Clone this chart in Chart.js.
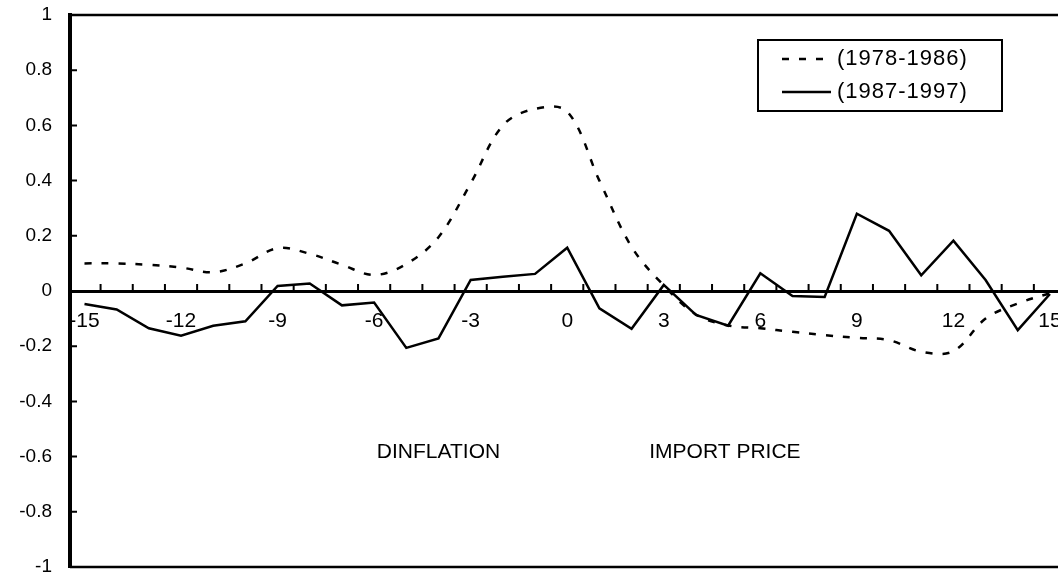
<!DOCTYPE html>
<html>
<head>
<meta charset="utf-8">
<script src="https://cdn.jsdelivr.net/npm/chart.js@4.4.1/dist/chart.umd.min.js"></script>
<style>
  html, body { margin: 0; padding: 0; background: #fff; overflow: hidden; }
  #caja { width: 1058px; height: 580px; position: relative; }
</style>
</head>
<body>
<div id="caja"><canvas id="grafico"></canvas></div>
<script>
//datos
const lags = [-15, -14, -13, -12, -11, -10, -9, -8, -7, -6, -5, -4, -3, -2, -1, 0,
              1, 2, 3, 4, 5, 6, 7, 8, 9, 10, 11, 12, 13, 14, 15];
const serie7886 = [0.10, 0.10, 0.095, 0.085, 0.068, 0.10, 0.155, 0.135, 0.095, 0.058, 0.098,
                   0.195, 0.39, 0.60, 0.66, 0.65, 0.40, 0.16, 0.02, -0.085, -0.125,
                   -0.135, -0.148, -0.16, -0.17, -0.178, -0.22, -0.218, -0.10, -0.045, -0.008];
const serie8797 = [-0.047, -0.067, -0.135, -0.162, -0.126, -0.11, 0.018, 0.027, -0.052, -0.042, -0.206,
                   -0.172, 0.04, 0.052, 0.062, 0.157, -0.063, -0.137, 0.022, -0.087, -0.126,
                   0.064, -0.018, -0.022, 0.28, 0.218, 0.057, 0.182, 0.04, -0.142, -0.011];
const etiquetas = ['(1978-1986)', '(1987-1997)'];
const ticksX = [-15, -12, -9, -6, -3, 0, 3, 6, 9, 12, 15];
const ticksY = [1, 0.8, 0.6, 0.4, 0.2, 0, -0.2, -0.4, -0.6, -0.8, -1];
const etiquetasY = ['1', '0.8', '0.6', '0.4', '0.2', '0', '-0.2', '-0.4', '-0.6', '-0.8', '-1'];
const notas = ['DINFLATION', 'IMPORT PRICE'];
const notasX = [-4, 4.9];
const notasY = [-0.585, -0.585];

const FUENTE = "'Liberation Sans', Arial, sans-serif";

//marco, marcas, leyenda y notas
const marco = {
    id: 'marco',
    afterDraw(chart) {
        const { ctx, chartArea: a } = chart;
        const x = chart.scales.x;
        const y = chart.scales.y;
        const y0 = y.getPixelForValue(0);
        ctx.save();
        ctx.strokeStyle = '#000';
        ctx.lineWidth = 2.5;
        ctx.beginPath();
        ctx.moveTo(a.left, a.top); ctx.lineTo(a.right, a.top);
        ctx.moveTo(a.left, a.bottom); ctx.lineTo(a.right, a.bottom);
        ctx.stroke();

        ctx.lineWidth = 2;
        ctx.beginPath();
        ticksY.forEach(v => {
            const p = y.getPixelForValue(v);
            ctx.moveTo(a.left, p); ctx.lineTo(a.left + 7, p);
        });
        for (let i = 0; i < lags.length; i++) {
            const p = x.getPixelForValue(lags[i] + 0.5);
            if (p > a.right) break;
            ctx.moveTo(p, y0); ctx.lineTo(p, y0 - 7);
        }
        ctx.stroke();

        // leyenda
        ctx.lineWidth = 2;
        ctx.strokeRect(758, 40, 244, 71);
        const filas = [59, 92];
        chart.data.datasets.forEach((ds, i) => {
            ctx.beginPath();
            ctx.lineWidth = ds.borderWidth;
            ctx.setLineDash(ds.borderDash || []);
            ctx.moveTo(782, filas[i]);
            ctx.lineTo(i === 0 ? 823 : 831, filas[i]);
            ctx.stroke();
            ctx.setLineDash([]);
            ctx.fillStyle = '#000';
            ctx.font = '22px ' + FUENTE;
            ctx.letterSpacing = '1px';
            ctx.textAlign = 'left';
            ctx.textBaseline = 'middle';
            ctx.fillText(ds.label, 837, filas[i]);
            ctx.letterSpacing = '0px';
        });

        // notas
        ctx.font = '21px ' + FUENTE;
        ctx.textAlign = 'center';
        notas.forEach((t, i) => {
            ctx.fillText(t, x.getPixelForValue(notasX[i]), y.getPixelForValue(notasY[i]));
        });
        ctx.restore();
    }
};

const config = {
    type: 'line',
    data: {
        datasets: [{
            label: etiquetas[0],
            data: lags.map((l, i) => ({ x: l, y: serie7886[i] })),
            borderColor: '#000',
            borderWidth: 2.5,
            borderDash: [7, 10],
            tension: 0.35,
            pointRadius: 0,
            fill: false,
        }, {
            label: etiquetas[1],
            data: lags.map((l, i) => ({ x: l, y: serie8797[i] })),
            borderColor: '#000',
            borderWidth: 2.5,
            tension: 0,
            pointRadius: 0,
            fill: false,
        }],
    },
    options: {
        responsive: true,
        maintainAspectRatio: false,
        animation: false,
        layout: { padding: { top: 15, bottom: 13, left: 0, right: 0 } },
        plugins: { legend: { display: false }, tooltip: { enabled: false } },
        scales: {
            x: {
                type: 'linear',
                min: -15.45,
                max: 15.25,
                position: { y: 0 },
                afterBuildTicks: s => { s.ticks = ticksX.map(v => ({ value: v })); },
                afterFit: s => { s.paddingLeft = 0; s.paddingRight = 0; },
                ticks: {
                    autoSkip: false, maxRotation: 0, padding: 18, color: '#000',
                    font: { family: FUENTE, size: 21 },
                    callback: v => String(v),
                },
                grid: { display: false, drawTicks: false },
                border: { display: true, color: '#000', width: 3 },
            },
            y: {
                min: -1,
                max: 1,
                afterBuildTicks: s => { s.ticks = ticksY.map(v => ({ value: v })); },
                afterFit: s => { s.width = 70; s.paddingTop = 0; s.paddingBottom = 0; },
                ticks: {
                    padding: 18, color: '#000',
                    font: { family: FUENTE, size: 19 },
                    callback: (v, i) => etiquetasY[i],
                },
                grid: { display: false, drawTicks: false },
                border: { display: true, color: '#000', width: 4 },
            },
        },
    },
    plugins: [marco],
};

new Chart(document.getElementById('grafico'), config);
</script>
</body>
</html>
